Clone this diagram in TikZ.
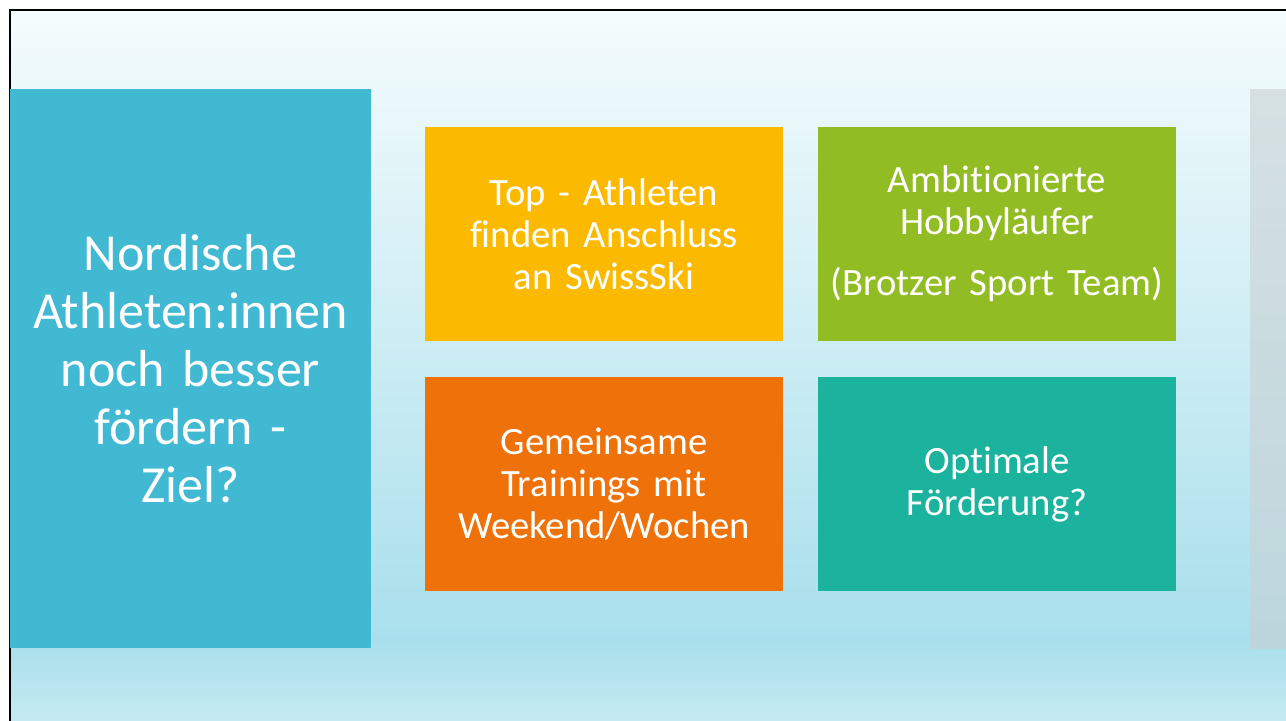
\documentclass[tikz,border=0pt]{standalone}
\usepackage{fontspec}
\setmainfont[Ligatures=NoCommon,WordSpace=0.75]{Carlito}
\definecolor{bgtop}{HTML}{F5FCFD}
\definecolor{bgdeep}{HTML}{A9DFEC}
\definecolor{bgbot}{HTML}{C5EAF1}
\definecolor{cleft}{HTML}{41B9D3}
\definecolor{cyel}{HTML}{FBBA00}
\definecolor{cgreen}{HTML}{92BC24}
\definecolor{corange}{HTML}{EE7109}
\definecolor{cteal}{HTML}{1BB39E}
\definecolor{graytop}{HTML}{D6E0E3}
\definecolor{graybot}{HTML}{BCD6DC}
\pgfdeclareverticalshading{bgsh}{100bp}{color(0bp)=(bgbot); color(25bp)=(bgbot); color(30.7bp)=(bgdeep); color(75bp)=(bgtop); color(100bp)=(bgtop)}
\tikzset{
  tile/.style={rectangle, inner sep=0pt, outer sep=0pt, text=white, align=center,
    minimum width=268.5pt, minimum height=160.5pt, text width=260pt,
    font=\fontsize{29pt}{31.5pt}\selectfont},
  bigtile/.style={rectangle, inner sep=0pt, outer sep=0pt, text=white, align=center,
    minimum width=270.75pt, minimum height=419.25pt, text width=265pt,
    font=\fontsize{39pt}{43.5pt}\selectfont},
}
\begin{document}
\begin{tikzpicture}[x=0.75pt,y=-0.75pt]
\useasboundingbox (0,0) rectangle (1286,721);
\fill[white] (0,0) rectangle (1286,721);
\shade[shading=bgsh] (11,11) rectangle (1286,721);
\draw[black, line width=1.6pt] (10,721) -- (10,10) -- (1286,10);
% gray partial box at right
\shade[top color=graytop, bottom color=graybot] (1250,89) rectangle (1290,648);
% left box
\node[bigtile, fill=cleft] (left) at (190.5,368.5) {Nordische\\Athleten:innen\\noch besser\\fördern -\\Ziel?};
% four tiles
\node[tile, fill=cyel] (tl) at (604,234) {Top - Athleten\\finden Anschluss\\an SwissSki};
\node[tile, fill=cgreen] (tr) at (997,234) {Ambitionierte\\Hobbyläufer\\[14pt](Brotzer Sport Team)};
\node[tile, fill=corange] (bl) at (604,484) {Gemeinsame\\Trainings mit\\Weekend/Wochen};
\node[tile, fill=cteal] (br) at (997,484) {Optimale\\Förderung?};
\end{tikzpicture}
\end{document}
